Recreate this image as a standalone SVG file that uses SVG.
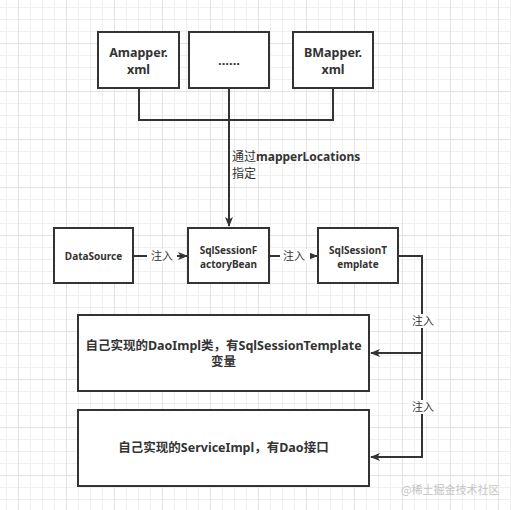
<svg xmlns="http://www.w3.org/2000/svg" width="511" height="510" viewBox="0 0 511 510">
<defs>
<pattern id="grid" x="18" y="43" width="48" height="48" patternUnits="userSpaceOnUse">
<path d="M12.5 0V48M24.5 0V48M36.5 0V48M0 12.5H48M0 24.5H48M0 36.5H48" stroke="#efefef" stroke-width="1" fill="none"/>
<path d="M0.5 0V48M0 0.5H48" stroke="#e2e2e2" stroke-width="1" fill="none"/>
</pattern>
<marker id="arr" markerWidth="10" markerHeight="8" refX="9" refY="4" orient="auto" markerUnits="userSpaceOnUse">
<path d="M0 0L10 4L0 8L2.5 4Z" fill="#333"/>
</marker>
<style>
.box{fill:#fff;stroke:#333;stroke-width:2}
.t{font-family:"Noto Sans","Noto Sans CJK SC",sans-serif;font-weight:bold;fill:#333;text-anchor:middle}
.lbl{font-family:"Noto Sans CJK SC","Noto Sans",sans-serif;font-size:11px;fill:#333;text-anchor:middle}
.ln{fill:none;stroke:#333;stroke-width:2}
</style>
</defs>
<rect width="511" height="510" fill="#fff"/>
<rect width="511" height="510" fill="url(#grid)"/>
<g id="connectors">
<path class="ln" d="M139 88V120H229"/>
<path class="ln" d="M333 88V120H229"/>
<path class="ln" d="M229 88V226" marker-end="url(#arr)"/>
<path class="ln" d="M133 256H187" marker-end="url(#arr)"/>
<path class="ln" d="M269 256H317" marker-end="url(#arr)"/>
<path class="ln" d="M398 256H422V353H371" marker-end="url(#arr)"/>
<path class="ln" d="M422 353V457H371" marker-end="url(#arr)"/>
<rect x="147" y="249" width="30" height="14" fill="#fff"/>
<text class="lbl" x="162" y="260">注入</text>
<rect x="280" y="249" width="30" height="14" fill="#fff"/>
<text class="lbl" x="294" y="260">注入</text>
<rect x="410" y="314" width="26" height="14" fill="#fff"/>
<text class="lbl" x="423" y="325">注入</text>
<rect x="410" y="400" width="26" height="14" fill="#fff"/>
<text class="lbl" x="423" y="411">注入</text>
<text font-family="Noto Sans CJK SC,Noto Sans,sans-serif" font-size="12" fill="#333" x="232" y="161">通过<tspan font-family="Noto Sans,sans-serif" font-weight="bold">mapperLocations</tspan></text>
<text font-family="Noto Sans CJK SC,Noto Sans,sans-serif" font-size="12" fill="#333" x="232" y="178">指定</text>
</g>
<g id="amapper">
<rect class="box" x="98" y="32" width="81" height="56"/>
<text class="t" font-size="12.5" x="138.5" y="57">Amapper.</text>
<text class="t" font-size="12.5" x="138.5" y="74">xml</text>
</g>
<g id="dots">
<rect class="box" x="189" y="32" width="80" height="56"/>
<text class="t" font-size="13" x="229" y="65">......</text>
</g>
<g id="bmapper">
<rect class="box" x="293" y="32" width="80" height="56"/>
<text class="t" font-size="12.5" x="333" y="57">BMapper.</text>
<text class="t" font-size="12.5" x="333" y="74">xml</text>
</g>
<g id="datasource">
<rect class="box" x="54" y="228" width="79" height="55"/>
<text class="t" font-size="10" x="93.5" y="260">DataSource</text>
</g>
<g id="factorybean">
<rect class="box" x="188" y="228" width="81" height="55"/>
<text class="t" font-size="10" x="228.5" y="254">SqlSessionF</text>
<text class="t" font-size="10" x="228.5" y="268">actoryBean</text>
</g>
<g id="template">
<rect class="box" x="318" y="228" width="80" height="55"/>
<text class="t" font-size="10" x="358" y="254">SqlSessionT</text>
<text class="t" font-size="10" x="358" y="268">emplate</text>
</g>
<g id="daoimpl">
<rect class="box" x="78" y="315" width="291" height="76"/>
<text class="t" font-size="12.5" x="223.5" y="350">自己实现的DaoImpl类，有SqlSessionTemplate</text>
<text class="t" font-size="12.5" x="223.5" y="366" font-weight="normal">变量</text>
</g>
<g id="serviceimpl">
<rect class="box" x="78" y="410" width="291" height="76"/>
<text class="t" font-size="12.5" x="223.5" y="452">自己实现的ServiceImpl，有Dao接口</text>
</g>
<text font-family="Noto Sans CJK SC,sans-serif" font-size="11" fill="#c4c4c4" x="401" y="494">@稀土掘金技术社区</text>
</svg>
